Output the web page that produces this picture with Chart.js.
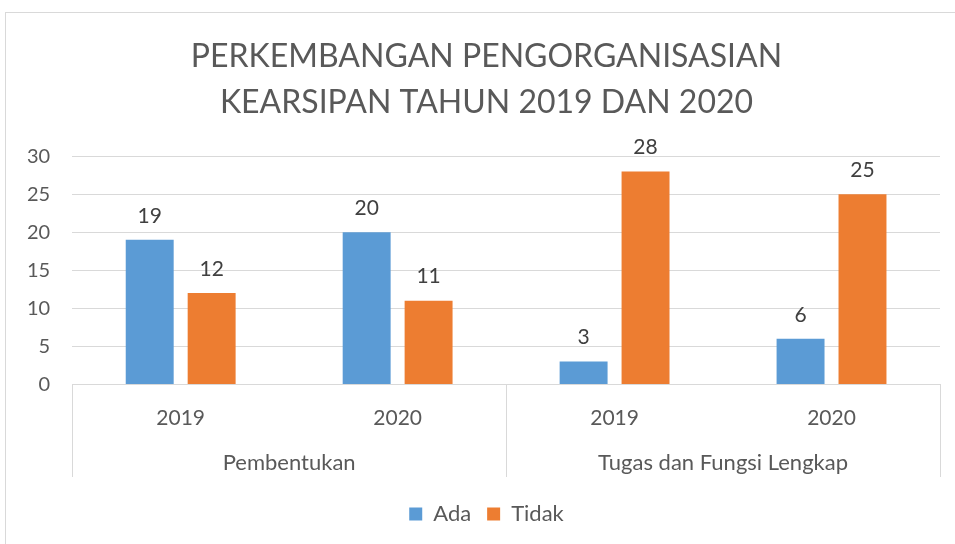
<!DOCTYPE html>
<html>
<head>
<meta charset="utf-8">
<script src="https://cdn.jsdelivr.net/npm/chart.js@4.4.1/dist/chart.umd.min.js"></script>
<style>
  html, body { margin: 0; padding: 0; background: #fff; overflow: hidden; }
  #wrap { position: relative; width: 955px; height: 544px; overflow: hidden; }
  #frame { position: absolute; left: 5px; top: 12px; width: 980px; height: 560px; border: 1px solid #d9d9d9; box-sizing: border-box; }
  canvas { position: absolute; left: 0; top: 0; }
</style>
</head>
<body>
<div id="wrap">
  <div id="frame"></div>
  <canvas id="chart" width="980" height="544"></canvas>
</div>
<script>
const categories = ['2019', '2020', '2019', '2020'];
const groups = ['Pembentukan', 'Tugas dan Fungsi Lengkap'];
const adaValues = [19, 20, 3, 6];
const tidakValues = [12, 11, 28, 25];
const yMin = 0;
const yMax = 30;
const yStep = 5;

const FONT = 'Lato';
const TEXT = '#595959';
const GROUP_GAP = 13; // extra room under the group labels

// value labels above each bar
const barLabels = {
    id: 'barLabels',
    afterDatasetsDraw(chart) {
        const ctx = chart.ctx;
        ctx.save();
        ctx.font = '21px ' + FONT;
        ctx.fillStyle = '#404040';
        ctx.textAlign = 'center';
        ctx.textBaseline = 'middle';
        chart.data.datasets.forEach((ds, i) => {
            chart.getDatasetMeta(i).data.forEach((bar, j) => {
                ctx.fillText(ds.data[j], bar.x, bar.y - 24);
            });
        });
        ctx.restore();
    }
};

// vertical separators between the category groups
const groupLines = {
    id: 'groupLines',
    afterDraw(chart) {
        const x = chart.scales.x;
        const x2 = chart.scales.x2;
        const half = (x.getPixelForValue(1) - x.getPixelForValue(0)) / 2;
        const per = categories.length / groups.length;
        const ctx = chart.ctx;
        ctx.save();
        ctx.strokeStyle = '#d9d9d9';
        ctx.lineWidth = 1;
        for (let g = 0; g <= groups.length; g++) {
            const idx = g * per;
            const px = Math.round(idx < categories.length ? x.getPixelForValue(idx) - half : x.getPixelForValue(idx - 1) + half) + 0.5;
            ctx.beginPath();
            ctx.moveTo(px, x.top);
            ctx.lineTo(px, x2.bottom - GROUP_GAP + 3);
            ctx.stroke();
        }
        ctx.restore();
    }
};

const ctx = document.getElementById('chart');
new Chart(ctx, {
    type: 'bar',
    data: {
        labels: categories,
        datasets: [{
            label: 'Ada',
            data: adaValues,
            backgroundColor: '#5b9bd5'
        }, {
            label: 'Tidak',
            data: tidakValues,
            backgroundColor: '#ed7d31'
        }]
    },
    options: {
        responsive: false,
        animation: false,
        barPercentage: 0.774,
        categoryPercentage: 0.571,
        layout: { padding: { left: 5, right: 12, top: 22, bottom: 9 } },
        scales: {
            y: {
                min: yMin,
                max: yMax,
                ticks: { stepSize: yStep, color: TEXT, font: { family: FONT, size: 20 }, padding: 22 },
                grid: { color: '#d9d9d9', drawTicks: false },
                border: { display: false }
            },
            // empty spacer so title and legend sit centred on the chart frame
            yRight: {
                position: 'right',
                grid: { display: false, drawTicks: false },
                ticks: { display: false },
                border: { display: false },
                afterFit(scale) { scale.width = 28; }
            },
            x: {
                weight: 0,
                ticks: { color: TEXT, font: { family: FONT, size: 21 }, padding: 21 },
                grid: { display: false, drawTicks: false },
                border: { color: '#d9d9d9' }
            },
            x2: {
                type: 'category',
                position: 'bottom',
                weight: 1,
                labels: groups,
                offset: true,
                ticks: { color: TEXT, font: { family: FONT, size: 22 }, padding: -2 },
                grid: { display: false, drawTicks: false },
                border: { display: false },
                afterFit(scale) { scale.height += GROUP_GAP; }
            }
        },
        plugins: {
            title: {
                display: true,
                text: ['PERKEMBANGAN PENGORGANISASIAN', 'KEARSIPAN TAHUN 2019 DAN 2020'],
                color: TEXT,
                font: { family: FONT, size: 32, weight: 'normal', lineHeight: 1.44 },
                padding: { top: 12, bottom: 30 }
            },
            legend: {
                position: 'bottom',
                labels: { color: TEXT, font: { family: FONT, size: 22 }, boxWidth: 13, boxHeight: 13, padding: 16 }
            },
            tooltip: { enabled: false }
        }
    },
    plugins: [barLabels, groupLines]
});
</script>
</body>
</html>
